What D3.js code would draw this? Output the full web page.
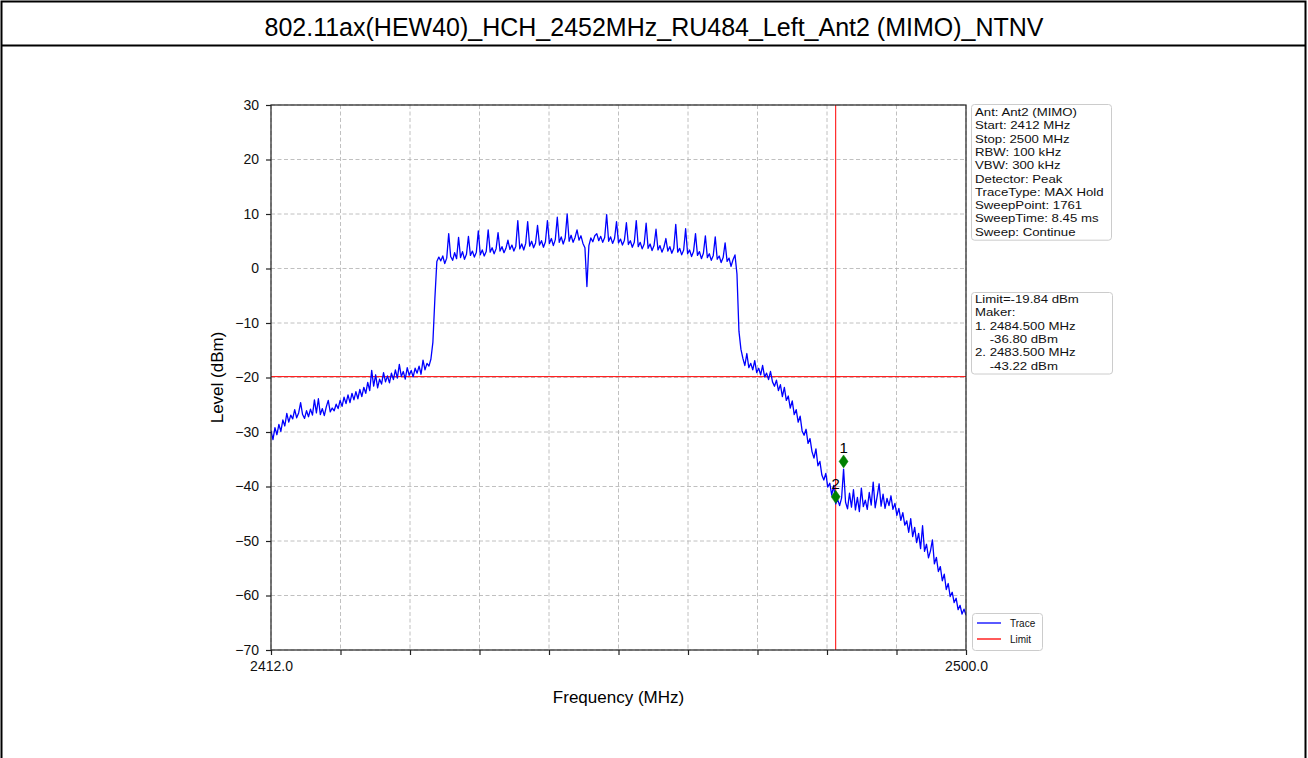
<!DOCTYPE html>
<html><head><meta charset="utf-8">
<script src="https://cdn.jsdelivr.net/npm/d3@7"></script>
<style>
body{margin:0;background:#fff;}
svg{display:block;font-family:"Liberation Sans",Arial,sans-serif;}
</style>
</head><body>
<svg id="chart" width="1308" height="758"></svg>
<script>
const title = "802.11ax(HEW40)_HCH_2452MHz_RU484_Left_Ant2 (MIMO)_NTNV";
const xLabel = "Frequency (MHz)";
const yLabel = "Level (dBm)";
const xDomain = [2412, 2500];
const yDomain = [-70, 30];
const yTicks = [-70, -60, -50, -40, -30, -20, -10, 0, 10, 20, 30];
const xTicks = [2412, 2420.8, 2429.6, 2438.4, 2447.2, 2456, 2464.8, 2473.6, 2482.4, 2491.2, 2500];
const xTickLabels = ["2412.0", "", "", "", "", "", "", "", "", "", "2500.0"];
const traceStart = 2412;
const traceStep = 0.25;
const traceLevels = [
  // 2412 - 2432.75
  -29.8,-31.4,-29.2,-30.5,-28.6,-29.9,-27.8,-28.9,-26.6,-28.2,
  -26.9,-27.6,-25.9,-27.4,-26.5,-24.6,-26.8,-27.5,-26.1,-27.2,
  -25.8,-26.9,-24.1,-26.5,-23.9,-26.8,-25.7,-27.0,-25.4,-24.2,
  -26.3,-25.6,-26.1,-24.9,-25.7,-24.2,-25.3,-23.6,-24.8,-23.2,
  -24.6,-22.9,-24.1,-22.6,-23.9,-22.2,-23.5,-21.8,-22.9,-20.9,
  -22.4,-18.7,-21.6,-19.5,-21.9,-20.3,-21.2,-19.1,-20.8,-19.7,
  -21.0,-19.2,-20.4,-18.6,-20.1,-17.6,-19.8,-18.9,-20.3,-18.2,
  -19.6,-18.7,-19.9,-18.3,-19.2,-17.9,-19.4,-16.8,-18.6,-17.4,
  -17.9,-16.6,-13.5,-5.5,1.3,
  // channel top
  2.1,1.4,2.3,0.9,1.9,
  6.4,2.2,1.5,2.9,1.8,5.7,2.0,3.1,1.7,2.6,
  5.9,2.4,3.2,2.1,3.0,6.9,2.5,3.4,2.3,3.1,
  7.1,3.0,3.8,2.7,3.6,6.6,3.2,4.0,2.9,3.7,
  5.2,3.5,4.3,3.2,4.1,8.8,3.6,4.5,3.4,4.6,
  8.6,4.1,5.0,3.8,4.7,7.9,4.3,5.1,3.9,4.9,
  8.8,4.6,5.5,4.2,5.3,9.4,4.8,5.8,4.5,5.6,
  10.0,5.0,6.1,4.8,5.7,7.1,5.2,6.0,4.6,3.8,
  -3.3,4.2,5.6,4.9,6.0,6.4,5.1,5.9,4.8,5.7,
  9.9,5.0,5.8,4.6,5.5,8.6,4.7,5.4,4.3,5.2,
  8.4,4.4,5.1,3.9,4.8,8.8,4.0,4.8,3.6,4.5,
  8.3,3.7,4.5,3.3,4.2,7.2,3.4,4.2,3.0,3.9,
  5.5,3.2,4.0,2.8,3.7,8.1,3.0,3.7,2.5,3.4,
  7.3,2.7,3.4,2.2,3.1,6.4,2.4,3.1,1.8,2.8,
  6.0,2.0,2.7,1.5,2.4,5.8,1.7,2.3,1.1,2.0,
  4.7,1.3,1.9,0.4,1.6,2.5,-1.0,-11.5,-14.8,
  // upper skirt
  -16.5,-17.8,-15.6,-18.2,-17.4,-18.6,-16.9,-19.1,-18.3,-19.5,
  -17.8,-19.9,-19.2,-20.4,-18.9,-20.8,-21.6,-20.5,-22.4,-21.3,
  -23.5,-21.8,-24.2,-23.4,-25.6,-24.3,-26.8,-25.9,-28.2,-27.1,
  -29.8,-30.6,-29.5,-32.1,-31.2,-33.6,-34.8,-33.1,-36.2,-35.4,
  -37.9,-38.8,-37.6,-40.1,-39.4,-41.6,-39.8,-43.2,-42.4,-43.5,
  -42.1,-36.8,-42.9,-44.1,-41.2,-43.8,-40.6,-44.3,-42.0,-44.6,
  -40.3,-43.7,-42.5,-44.2,-41.1,-43.4,-39.2,-43.9,-41.8,-39.5,
  -43.6,-41.4,-44.0,-42.2,-43.5,-41.7,-44.2,-43.1,-45.3,-44.0,
  -46.2,-44.8,-47.1,-46.3,-48.4,-45.9,-49.2,-47.5,-50.3,-48.6,
  -51.4,-47.2,-51.9,-50.6,-53.1,-51.8,-49.8,-54.2,-53.0,-55.6,
  -54.7,-57.3,-56.1,-58.9,-57.8,-60.2,-59.4,-61.3,-60.5,-62.6,
  -61.8,-63.4,-62.5,-63.6
];
const limitLevel = -19.84;
const limitFreq = 2483.5;
const markerNames = ["1", "2"];
const markerFreqs = [2484.5, 2483.5];
const markerLevels = [-35.4, -41.9];
const infoLines = ["Ant: Ant2 (MIMO)", "Start: 2412 MHz", "Stop: 2500 MHz", "RBW: 100 kHz", "VBW: 300 kHz",
  "Detector: Peak", "TraceType: MAX Hold", "SweepPoint: 1761", "SweepTime: 8.45 ms", "Sweep: Continue"];
const limitLines = ["Limit=-19.84 dBm", "Maker:", "1. 2484.500 MHz", "    -36.80 dBm", "2. 2483.500 MHz", "    -43.22 dBm"];
const legendItems = ["Trace", "Limit"];
const legendColors = ["#0000ff", "#ff0000"];

const svg = d3.select("#chart");
const W = 1308, H = 758;
const plot = {left: 271, right: 966, top: 105, bottom: 650};
const x = d3.scaleLinear().domain(xDomain).range([plot.left, plot.right]);
const y = d3.scaleLinear().domain(yDomain).range([plot.bottom, plot.top]);

svg.append("rect").attr("width", W).attr("height", H).attr("fill", "#fff");
// outer frame
svg.append("path").attr("d", `M1.5,${H} V1.5 H${W-2.5} V${H}`).attr("fill", "none").attr("stroke", "#000").attr("stroke-width", 2);
svg.append("line").attr("x1", 1).attr("x2", W-2).attr("y1", 45.5).attr("y2", 45.5).attr("stroke", "#000").attr("stroke-width", 2);
svg.append("text").attr("x", W/2).attr("y", 36).attr("text-anchor", "middle").attr("font-size", 25).attr("fill", "#000").text(title);

// grid
const g = svg.append("g");
g.selectAll("line.gy").data(yTicks).join("line").attr("class", "gy")
  .attr("x1", plot.left).attr("x2", plot.right).attr("y1", d => y(d)).attr("y2", d => y(d))
  .attr("stroke", "#b0b0b0").attr("stroke-dasharray", "4,2.5").attr("stroke-width", 0.8);
g.selectAll("line.gx").data(xTicks).join("line").attr("class", "gx")
  .attr("y1", plot.top).attr("y2", plot.bottom).attr("x1", d => x(d)).attr("x2", d => x(d))
  .attr("stroke", "#b0b0b0").attr("stroke-dasharray", "4,2.5").attr("stroke-width", 0.8);

// limit lines
svg.append("line").attr("x1", plot.left).attr("x2", plot.right).attr("y1", y(limitLevel)).attr("y2", y(limitLevel))
  .attr("stroke", "#ff0000").attr("stroke-width", 1);
svg.append("line").attr("y1", plot.top).attr("y2", plot.bottom).attr("x1", x(limitFreq)).attr("x2", x(limitFreq))
  .attr("stroke", "#ff0000").attr("stroke-width", 1);

// trace
svg.append("clipPath").attr("id", "clip").append("rect")
  .attr("x", plot.left).attr("y", plot.top).attr("width", plot.right - plot.left).attr("height", plot.bottom - plot.top);
const line = d3.line().x((d, i) => x(traceStart + i * traceStep)).y(d => y(d));
svg.append("path").datum(traceLevels).attr("d", line).attr("fill", "none")
  .attr("stroke", "#0000ff").attr("stroke-width", 1.3).attr("stroke-linejoin", "round").attr("clip-path", "url(#clip)");

// markers
const diamond = (cx, cy) => `M${cx},${cy-6.5} L${cx+4.5},${cy} L${cx},${cy+6.5} L${cx-4.5},${cy} Z`;
markerNames.forEach((n, i) => {
  const cx = x(markerFreqs[i]), cy = y(markerLevels[i]);
  svg.append("path").attr("d", diamond(cx, cy)).attr("fill", "#008000").attr("stroke", "#008000").attr("stroke-width", 0.5);
  svg.append("text").attr("x", cx).attr("y", cy - 8).attr("text-anchor", "middle").attr("font-size", 15).attr("fill", "#000").text(n);
});

// frame
svg.append("rect").attr("x", plot.left).attr("y", plot.top).attr("width", plot.right - plot.left).attr("height", plot.bottom - plot.top)
  .attr("fill", "none").attr("stroke", "#222").attr("stroke-width", 1.2);

// axes
const yAxis = svg.append("g").attr("transform", `translate(${plot.left},0)`)
  .call(d3.axisLeft(y).tickValues(yTicks).tickSize(5).tickPadding(7).tickFormat(d3.format("d")));
const xAxis = svg.append("g").attr("transform", `translate(0,${plot.bottom})`)
  .call(d3.axisBottom(x).tickValues(xTicks).tickSize(5).tickPadding(6).tickFormat((d, i) => xTickLabels[i]));
[yAxis, xAxis].forEach(a => {
  a.select(".domain").remove();
  a.selectAll(".tick line").attr("stroke", "#222").attr("stroke-width", 1.2);
  a.selectAll(".tick text").attr("font-size", 14).attr("fill", "#111").attr("font-family", '"Liberation Sans",Arial,sans-serif');
});

svg.append("text").attr("x", (plot.left + plot.right) / 2).attr("y", 703).attr("text-anchor", "middle")
  .attr("font-size", 17).attr("fill", "#000").text(xLabel);
svg.append("text").attr("transform", `translate(223,${(plot.top + plot.bottom) / 2}) rotate(-90)`).attr("text-anchor", "middle")
  .attr("font-size", 17).attr("fill", "#000").text(yLabel);

// info boxes
const boxFont = 11.8, boxLead = 13.3;
function textBox(lines, bx, by, bw, y0) {
  const bh = (lines.length - 1) * boxLead + (y0 - by) + 4.5;
  svg.append("rect").attr("x", bx).attr("y", by).attr("width", bw).attr("height", bh).attr("rx", 3)
    .attr("fill", "#fff").attr("stroke", "#cccccc").attr("stroke-width", 1);
  lines.forEach((l, i) => {
    svg.append("text").attr("transform", `translate(${bx + 3.5},${y0 + i * boxLead}) scale(1.12,1)`)
      .attr("font-size", boxFont).attr("fill", "#111").attr("xml:space", "preserve").text(l);
  });
}
textBox(infoLines, 971.5, 104.5, 140, 116);
textBox(limitLines, 971.5, 292.5, 141, 303);

// legend
const lg = svg.append("g");
lg.append("rect").attr("x", 972.5).attr("y", 613.5).attr("width", 70).attr("height", 37).attr("rx", 3)
  .attr("fill", "#fff").attr("stroke", "#cccccc");
legendItems.forEach((n, i) => {
  const ly = 623 + i * 16;
  lg.append("line").attr("x1", 977).attr("x2", 1001).attr("y1", ly).attr("y2", ly).attr("stroke", legendColors[i]).attr("stroke-width", 1.3);
  lg.append("text").attr("x", 1010).attr("y", ly + 3.5).attr("font-size", 10).attr("fill", "#111").text(n);
});
</script>
</body></html>
